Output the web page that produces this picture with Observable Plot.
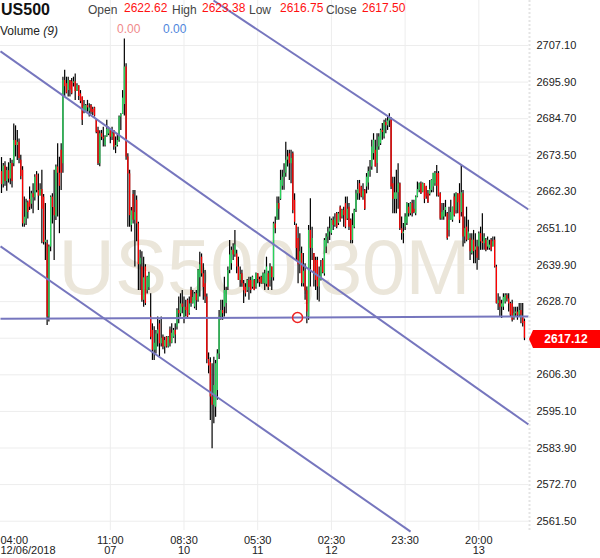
<!DOCTYPE html>
<html>
<head>
<meta charset="utf-8">
<script src="https://cdn.jsdelivr.net/npm/d3@7"></script>
<script src="https://cdn.jsdelivr.net/npm/@observablehq/plot@0.6"></script>
<style>
  html, body { margin: 0; padding: 0; background: #fff; }
  #chart { width: 600px; height: 558px; }
</style>
</head>
<body>
<div id="chart"></div>
<script>
// ---- OHLC bars, [open, high, low, close], 30-minute bars ----
const barsA = [ // 04:00 Dec 06 ...
[2668.5,2672.8,2661.8,2664.5],[2664.5,2671.0,2663.5,2670.2],[2670.2,2671.5,2664.0,2665.5],[2665.5,2669.8,2662.5,2668.8],
[2668.8,2671.2,2665.0,2666.2],[2666.2,2672.5,2664.5,2671.0],[2671.0,2672.0,2663.5,2665.5],
[2670.9,2683.1,2670.0,2678.0],[2678.0,2682.5,2673.0,2676.5],[2676.5,2681.1,2671.9,2677.5],[2677.5,2678.5,2670.9,2672.5],
[2672.0,2673.5,2666.0,2667.0],[2668.9,2670.0,2651.5,2652.5],[2652.5,2660.7,2651.5,2654.5],[2654.0,2660.0,2652.0,2659.0],
[2659.0,2659.5,2654.0,2656.0],[2660.0,2663.8,2656.6,2657.6],[2658.5,2662.5,2657.0,2661.7],[2661.7,2664.8,2655.6,2660.5],
[2660.5,2667.5,2659.5,2666.8],[2667.5,2668.5,2662.0,2662.7],[2662.7,2667.8,2656.6,2661.0],[2661.0,2664.8,2661.0,2663.0],
[2663.0,2668.9,2646.4,2657.0],[2660.7,2661.5,2646.0,2646.8],[2646.8,2658.7,2641.3,2647.5],[2646.4,2647.5,2621.4,2624.0],
[2624.0,2646.0,2622.5,2645.4],[2645.4,2661.0,2644.0,2660.7],[2660.7,2661.7,2652.5,2657.5],[2657.5,2668.9,2641.3,2655.0],
[2654.6,2670.5,2653.5,2669.9],[2669.9,2677.0,2654.6,2668.0],[2668.0,2672.9,2649.5,2664.0],[2675.0,2677.0,2662.7,2668.0]
];
const barsB = [ // ... Dec 07
[2670.9,2697.4,2668.0,2696.4],[2696.4,2699.5,2691.3,2694.5],[2695.4,2697.4,2692.3,2692.5],[2693.3,2697.4,2691.3,2696.4],
[2696.4,2696.4,2691.3,2693.5],[2696.0,2697.0,2692.0,2692.3],[2695.5,2697.4,2694.4,2696.0],[2696.0,2698.4,2690.3,2693.0],
[2693.0,2695.4,2693.0,2694.8],[2694.8,2694.8,2690.3,2691.5],[2692.3,2693.3,2689.3,2690.0],[2691.3,2691.3,2682.6,2684.2],
[2687.0,2690.3,2686.2,2688.5],[2686.7,2689.0,2686.5,2688.7],[2688.7,2690.3,2686.7,2688.0],[2687.0,2689.3,2685.2,2688.0],
[2688.7,2689.0,2686.0,2686.7],[2687.5,2688.2,2685.7,2686.5],[2688.0,2688.2,2685.2,2685.5],[2684.2,2684.5,2680.1,2680.5],
[2681.1,2682.1,2670.4,2670.9],[2670.9,2681.0,2670.0,2680.1],[2680.1,2681.1,2678.0,2679.0],[2679.0,2682.1,2676.0,2678.5],
[2676.5,2679.5,2676.0,2679.1],[2679.1,2684.2,2679.0,2681.5],[2680.0,2682.1,2679.5,2681.5],[2681.5,2681.5,2677.0,2679.0],
[2679.0,2682.1,2678.0,2680.0],[2681.1,2681.1,2675.0,2676.0],[2676.0,2679.1,2674.0,2676.5],[2676.5,2680.1,2676.0,2678.0],
[2678.0,2685.5,2677.5,2685.2],[2685.2,2686.2,2681.1,2686.0],[2686.0,2693.3,2686.0,2691.0],[2689.0,2709.1,2685.5,2700.5],
[2700.5,2701.5,2672.0,2673.0],[2673.0,2674.0,2651.5,2667.8],[2667.8,2668.9,2651.5,2655.0],[2652.0,2657.5,2650.0,2656.5]
];
const barsC = [ // ... Dec 10 / Dec 11
[2661.5,2662.7,2652.5,2653.6],[2653.6,2662.7,2639.3,2656.0],[2659.7,2661.0,2647.0,2652.5],[2652.5,2653.0,2632.1,2640.0],
[2640.0,2644.4,2632.1,2642.0],[2639.3,2644.0,2628.5,2629.1],[2629.1,2642.3,2627.0,2636.0],[2639.3,2640.0,2627.5,2628.1],
[2632.0,2636.5,2631.0,2636.2],[2633.0,2637.7,2632.1,2637.2],[2624.0,2631.1,2617.0,2617.8],[2619.9,2621.9,2610.7,2613.8],
[2613.8,2621.0,2610.7,2616.0],[2613.8,2619.9,2612.7,2618.8],[2618.8,2624.0,2614.8,2620.0],[2621.9,2623.0,2611.7,2615.8],
[2615.8,2624.0,2614.8,2617.5],[2617.8,2618.5,2614.0,2614.8],[2614.8,2617.8,2612.7,2616.8],[2617.8,2618.0,2614.5,2614.8],
[2614.8,2618.0,2614.5,2617.8],[2620.0,2620.9,2614.8,2616.0],[2616.0,2621.9,2615.8,2619.0],[2617.8,2620.5,2617.5,2619.9],
[2619.9,2621.9,2615.8,2618.5],[2620.9,2626.5,2620.0,2626.0],[2626.0,2630.1,2621.9,2625.0],[2625.0,2631.1,2624.0,2628.0],
[2628.0,2632.1,2625.0,2627.0],[2624.0,2630.1,2621.9,2627.0],[2627.0,2629.1,2624.0,2626.0],[2629.1,2629.5,2623.5,2624.0],
[2625.0,2630.1,2624.5,2628.0],[2632.1,2633.1,2627.0,2628.1],[2628.1,2632.1,2628.0,2630.0],[2627.0,2631.5,2626.5,2631.1],
[2631.1,2632.1,2626.0,2629.0],[2629.1,2638.5,2628.5,2638.3],[2636.0,2643.8,2630.1,2640.0],[2642.3,2643.3,2636.2,2637.2],
[2637.2,2640.3,2629.1,2633.0],[2634.2,2638.2,2628.1,2630.1],[2630.1,2631.0,2609.7,2611.0],[2611.0,2613.0,2606.6,2609.0],
[2610.0,2611.5,2592.3,2599.5],[2599.5,2609.7,2583.7,2597.0],[2597.0,2611.7,2591.3,2603.0],[2596.4,2610.7,2593.3,2609.7],
[2601.5,2614.0,2598.5,2612.7],[2612.7,2626.0,2611.0,2624.0],[2624.0,2629.1,2623.0,2626.0],[2626.0,2629.1,2623.0,2625.0],
[2627.0,2636.2,2624.0,2632.1],[2628.1,2633.1,2625.0,2632.1],[2633.1,2639.3,2632.1,2638.2],[2638.2,2647.4,2637.2,2643.0],
[2640.3,2645.4,2638.3,2644.4],[2644.4,2646.4,2641.3,2643.0],[2643.0,2650.5,2642.3,2646.0],[2643.3,2644.4,2637.2,2639.3],
[2639.3,2642.3,2635.2,2635.2],[2635.2,2639.3,2633.1,2637.0],[2637.2,2638.3,2633.1,2634.2],[2634.2,2635.2,2628.1,2632.0],
[2633.1,2634.2,2630.1,2631.1],[2632.1,2635.5,2631.5,2635.2],[2635.2,2636.2,2629.1,2633.0],[2635.2,2636.2,2631.1,2632.1],
[2633.1,2636.5,2632.5,2636.2],[2635.2,2635.5,2632.0,2632.1],[2633.1,2637.5,2632.5,2637.2],[2637.2,2637.2,2634.2,2635.5],
[2635.5,2636.2,2633.1,2634.5],[2636.2,2636.5,2634.0,2634.2],[2634.2,2637.5,2634.0,2637.2]
];
const barsD = [ // ... Dec 12
[2634.2,2638.3,2632.1,2637.2],[2634.0,2642.3,2633.2,2639.3],[2637.2,2638.0,2632.1,2633.0],[2635.2,2640.3,2633.2,2639.3],
[2639.3,2639.3,2632.1,2636.0],[2636.0,2653.0,2635.0,2652.5],[2652.5,2654.6,2649.5,2651.0],[2653.6,2660.7,2653.6,2658.7],
[2658.7,2660.7,2653.6,2657.0],[2660.0,2668.9,2659.7,2665.8],[2664.0,2668.9,2662.8,2666.8],[2666.8,2670.9,2662.8,2668.0],
[2668.0,2677.5,2666.8,2672.0],[2672.0,2675.0,2669.9,2673.0],[2674.0,2675.0,2665.8,2670.9],[2670.9,2675.0,2664.8,2672.5],
[2674.0,2674.5,2655.6,2656.6],[2659.7,2661.7,2652.0,2653.0],[2652.0,2652.5,2641.3,2645.0],[2648.0,2651.5,2634.2,2640.0],
[2640.0,2649.5,2637.2,2644.0],[2643.4,2645.4,2633.2,2634.2],[2634.2,2643.4,2633.2,2638.0],[2638.0,2640.3,2629.1,2632.0],
[2632.0,2633.2,2621.9,2625.5],[2624.0,2652.0,2623.0,2650.5],[2650.5,2660.2,2633.2,2645.0],[2645.0,2651.5,2641.3,2648.0],
[2643.4,2643.4,2633.2,2638.0],[2641.3,2642.3,2632.1,2635.2],[2641.3,2642.3,2629.1,2633.2],[2633.2,2639.3,2628.6,2636.0],
[2635.2,2641.3,2635.0,2639.3],[2641.3,2641.8,2637.2,2637.5],[2637.2,2648.0,2636.5,2647.4],[2645.4,2649.5,2643.4,2648.5],
[2648.5,2651.5,2646.4,2650.0],[2650.0,2654.6,2647.4,2651.0],[2649.5,2654.0,2649.0,2653.6],[2653.6,2654.6,2650.5,2652.0],
[2652.0,2655.6,2651.5,2654.0],[2655.6,2656.0,2651.0,2651.5],[2652.6,2656.0,2652.0,2655.6],[2657.6,2658.0,2653.0,2653.6],
[2654.6,2657.0,2654.0,2656.6],[2656.6,2657.6,2651.5,2655.0],[2658.7,2660.7,2651.0,2651.5],[2654.0,2660.7,2653.5,2657.0],
[2657.6,2658.7,2650.5,2651.5],[2653.6,2654.0,2646.4,2647.4],[2647.4,2655.6,2646.4,2652.0],[2651.5,2657.0,2651.0,2656.6],
[2656.6,2662.8,2656.0,2661.7],[2661.7,2665.8,2659.7,2663.0],[2664.8,2665.8,2659.7,2661.7],[2663.8,2664.0,2660.5,2660.7],
[2660.7,2664.8,2659.7,2662.5],[2662.8,2663.0,2656.6,2657.0],[2663.8,2667.9,2661.7,2666.8],[2665.0,2669.9,2662.8,2668.5],
[2668.5,2671.9,2666.8,2669.0],[2669.9,2678.1,2668.9,2676.0],[2674.0,2680.1,2672.0,2678.1],[2675.0,2678.1,2669.9,2669.9],
[2671.0,2680.1,2667.9,2676.0],[2676.0,2680.1,2675.0,2679.1],[2677.0,2681.5,2676.5,2681.1],[2681.1,2683.2,2678.1,2680.5],
[2679.1,2684.2,2678.5,2683.5],[2683.5,2684.7,2680.1,2682.5],[2682.5,2685.2,2681.1,2684.0],[2684.0,2686.2,2682.0,2685.0],
[2684.2,2685.0,2663.0,2663.8],[2664.8,2666.8,2655.6,2660.0],[2660.0,2666.8,2655.6,2662.0]
];
const barsE = [ // ... Dec 13
[2660.0,2668.9,2655.6,2662.0],[2662.0,2670.9,2657.0,2664.8],[2664.8,2665.0,2650.5,2651.0],[2651.0,2654.6,2647.5,2649.5],
[2649.5,2652.6,2646.4,2650.0],[2651.5,2655.6,2650.5,2654.6],[2652.6,2659.0,2652.0,2658.7],[2657.6,2658.7,2654.6,2655.6],
[2655.6,2659.0,2655.0,2658.7],[2658.7,2659.7,2654.6,2655.6],[2657.0,2659.7,2655.6,2656.0],[2655.6,2661.0,2655.0,2660.7],
[2660.7,2665.3,2660.5,2663.0],[2662.7,2665.0,2662.0,2664.8],[2664.8,2665.3,2661.5,2661.7],[2662.2,2665.0,2662.0,2664.8],
[2664.8,2664.8,2658.7,2660.0],[2663.8,2664.0,2660.0,2660.7],[2661.7,2662.7,2658.7,2659.0],[2661.5,2665.8,2661.0,2663.0],
[2662.7,2666.0,2662.0,2665.8],[2663.8,2668.0,2662.0,2667.9],[2664.8,2668.5,2664.0,2667.9],[2667.9,2670.4,2660.7,2664.0],
[2667.9,2668.5,2660.7,2661.0],[2661.7,2662.0,2653.6,2654.0],[2654.0,2658.7,2653.6,2656.0],[2654.6,2658.7,2653.6,2656.6],
[2656.6,2659.7,2654.6,2657.5],[2655.6,2656.0,2647.5,2648.0],[2650.5,2657.6,2648.5,2653.6],[2653.6,2659.7,2653.6,2656.0],
[2653.6,2657.6,2653.0,2657.6],[2660.7,2661.7,2654.6,2655.0],[2656.6,2662.0,2655.5,2661.7],[2661.7,2661.7,2655.6,2659.0],
[2661.7,2664.8,2652.6,2653.6],[2656.0,2670.4,2654.6,2662.0],[2661.7,2662.7,2645.4,2648.5],[2648.5,2654.6,2646.4,2651.0],
[2651.5,2657.6,2647.0,2647.5],[2647.5,2653.6,2647.5,2650.0],[2648.0,2649.5,2641.3,2644.0],[2643.4,2649.5,2643.0,2647.5],
[2647.5,2650.5,2640.3,2644.0],[2644.4,2649.5,2640.3,2645.4],[2645.4,2647.5,2638.3,2642.0],[2645.4,2650.0,2641.3,2649.5],
[2649.5,2651.5,2644.4,2647.0],[2647.0,2655.6,2644.4,2646.5],[2646.4,2649.5,2644.4,2648.5],[2647.5,2648.0,2644.0,2644.4],
[2645.4,2648.5,2644.4,2647.5],[2645.0,2647.5,2644.4,2646.0],[2647.5,2648.0,2644.0,2644.4],[2645.4,2648.5,2645.4,2647.0],
[2647.5,2648.5,2639.0,2639.3],[2639.3,2639.8,2628.0,2628.1],[2628.1,2631.1,2626.0,2629.0],[2629.0,2630.1,2624.0,2627.0],
[2627.0,2629.1,2623.5,2628.0],[2627.0,2631.1,2626.0,2630.0],[2628.6,2631.1,2628.0,2630.6],[2630.6,2631.1,2628.6,2629.5],
[2629.5,2631.1,2625.5,2628.0],[2628.1,2628.5,2624.0,2624.5],[2628.0,2629.1,2622.5,2623.0],[2623.5,2627.0,2623.0,2625.0],
[2625.0,2627.0,2624.0,2625.5],[2625.5,2627.0,2623.0,2624.5],[2624.5,2628.1,2624.0,2626.0],[2626.0,2628.1,2621.9,2624.5],
[2624.0,2628.1,2620.9,2622.0],[2622.62,2623.38,2616.75,2617.50]
];

// ---- axes ----
const xTickIndex  = [0, 62, 104, 146, 188, 230, 272];
const xTickLabels = ["04:00\n12/06/2018", "11:00\n07", "08:30\n10", "05:30\n11", "02:30\n12", "23:30", "20:00\n13"];
const yTicks = [2561.5, 2572.7, 2583.9, 2595.1, 2606.3, 2617.5, 2628.7, 2639.9, 2651.1, 2662.3, 2673.5, 2684.7, 2695.9, 2707.1];
const lastPrice = 2617.12;

// ---- drawings (bar index, price) ----
const trendX1 = [120.8, -0.57, -0.57, -0.57];
const trendY1 = [2720.87, 2705.3, 2645.6, 2623.45];
const trendX2 = [300.3, 300.3, 233.1, 300.3];
const trendY2 = [2656.9, 2591.1, 2558.3, 2624.15];
const markerX = [168.7];
const markerY = [2623.85];

const bars = [...barsA, ...barsB, ...barsC, ...barsD, ...barsE]
  .map(([o, h, l, c], i) => ({i, o, h, l, c}));
const trends = trendX1.map((x1, k) => ({x1, y1: trendY1[k], x2: trendX2[k], y2: trendY2[k]}));
const markers = markerX.map((x, k) => ({x, y: markerY[k]}));
const xt = xTickIndex.map((i, k) => ({i, label: xTickLabels[k]}));

const FONT = "'Liberation Sans', Arial, Helvetica, sans-serif";

const plot = Plot.plot({
  width: 600, height: 558,
  marginTop: 0, marginBottom: 28, marginLeft: 0, marginRight: 72,
  x: {domain: [-0.57, 300.3], axis: null},
  y: {domain: [2558.65, 2720.87], axis: null},
  style: {fontFamily: FONT, background: "#fff", overflow: "visible"},
  marks: [
    Plot.gridY(yTicks, {stroke: "#ededed", strokeOpacity: 1}),
    Plot.gridX(xTickIndex.slice(1), {stroke: "#ededed", strokeOpacity: 1}),
    Plot.text(["US500,30M"], {frameAnchor: "top-left", dx: 264, dy: 293, textAnchor: "middle", lineAnchor: "bottom", fontSize: 78, fill: "#ebe6da"}),
    Plot.ruleX(bars, {x: "i", y1: "l", y2: "h", stroke: "#000", strokeWidth: 1.2}),
    Plot.ruleX(bars.filter(d => d.c > d.o), {x: "i", y1: "o", y2: "c", stroke: "#27d35a", strokeWidth: 1.3}),
    Plot.ruleX(bars.filter(d => d.c < d.o), {x: "i", y1: "o", y2: "c", stroke: "#ff0000", strokeWidth: 1.3}),
    Plot.link(trends, {x1: "x1", y1: "y1", x2: "x2", y2: "y2", stroke: "#7676be", strokeWidth: 2}),
    Plot.dot(markers, {x: "x", y: "y", r: 5, stroke: "#ee2222", strokeWidth: 1.5, fill: "none"}),
    Plot.axisY(yTicks.filter(v => v !== 2617.5), {anchor: "right", tickSize: 0, tickPadding: 8, tickFormat: d => d.toFixed(2), fontSize: 11, color: "#222", label: null}),
    Plot.text(xt.slice(0, 1), {x: "i", text: "label", frameAnchor: "bottom", lineAnchor: "top", textAnchor: "start", dx: -1, dy: 6, fontSize: 11, lineHeight: 0.95, fill: "#222"}),
    Plot.text(xt.slice(1), {x: "i", text: "label", frameAnchor: "bottom", lineAnchor: "top", dy: 6, fontSize: 11, lineHeight: 0.95, fill: "#222"})
  ]
});

const svg = d3.select(plot);
// right border (hatched)
svg.append("line").attr("x1", 529.5).attr("x2", 529.5).attr("y1", 0).attr("y2", 530)
  .attr("stroke", "#e4e4e4").attr("stroke-width", 2).attr("stroke-dasharray", "2,2");

// last price box
const yy = plot.scale("y").apply(lastPrice);
const g = svg.append("g").attr("transform", `translate(0,${yy})`);
g.append("path").attr("d", "M529,0 L533,-9 H600 V9 H533 Z").attr("fill", "#ff0000");
g.append("text").attr("x", 566).attr("y", 0).attr("dy", "0.35em").attr("text-anchor", "middle")
  .attr("fill", "#fff").attr("font-weight", "bold").attr("font-size", 12).attr("font-family", FONT)
  .text(lastPrice.toFixed(2));

// header
const last = bars[bars.length - 1];
const hdr = svg.append("g").attr("font-family", FONT).attr("text-anchor", "start");
hdr.append("text").attr("x", 1).attr("y", 15).attr("font-weight", "bold").attr("font-size", 16).attr("fill", "#111").text("US500");
const items = [
  ["Open", 88, "#444", 14], [last.o.toFixed(2), 124, "#ff1111", 12],
  ["High", 172, "#444", 14], [last.h.toFixed(2), 202, "#ff1111", 12],
  ["Low", 249, "#444", 14], [last.l.toFixed(2), 280, "#ff1111", 12],
  ["Close", 326, "#444", 14], [last.c.toFixed(2), 362, "#ff1111", 12]
];
for (const [t, x, c, y] of items) {
  hdr.append("text").attr("x", x).attr("y", y).attr("font-size", 12).attr("fill", c).text(t);
}
const vol = hdr.append("text").attr("x", 0).attr("y", 35).attr("font-size", 12).attr("fill", "#222");
vol.append("tspan").text("Volume ");
vol.append("tspan").attr("font-style", "italic").text("(9)");
hdr.append("text").attr("x", 117).attr("y", 33).attr("font-size", 12).attr("fill", "#f08a8a").text("0.00");
hdr.append("text").attr("x", 163).attr("y", 33).attr("font-size", 12).attr("fill", "#4f86dc").text("0.00");

document.getElementById("chart").appendChild(plot);
</script>
</body>
</html>
